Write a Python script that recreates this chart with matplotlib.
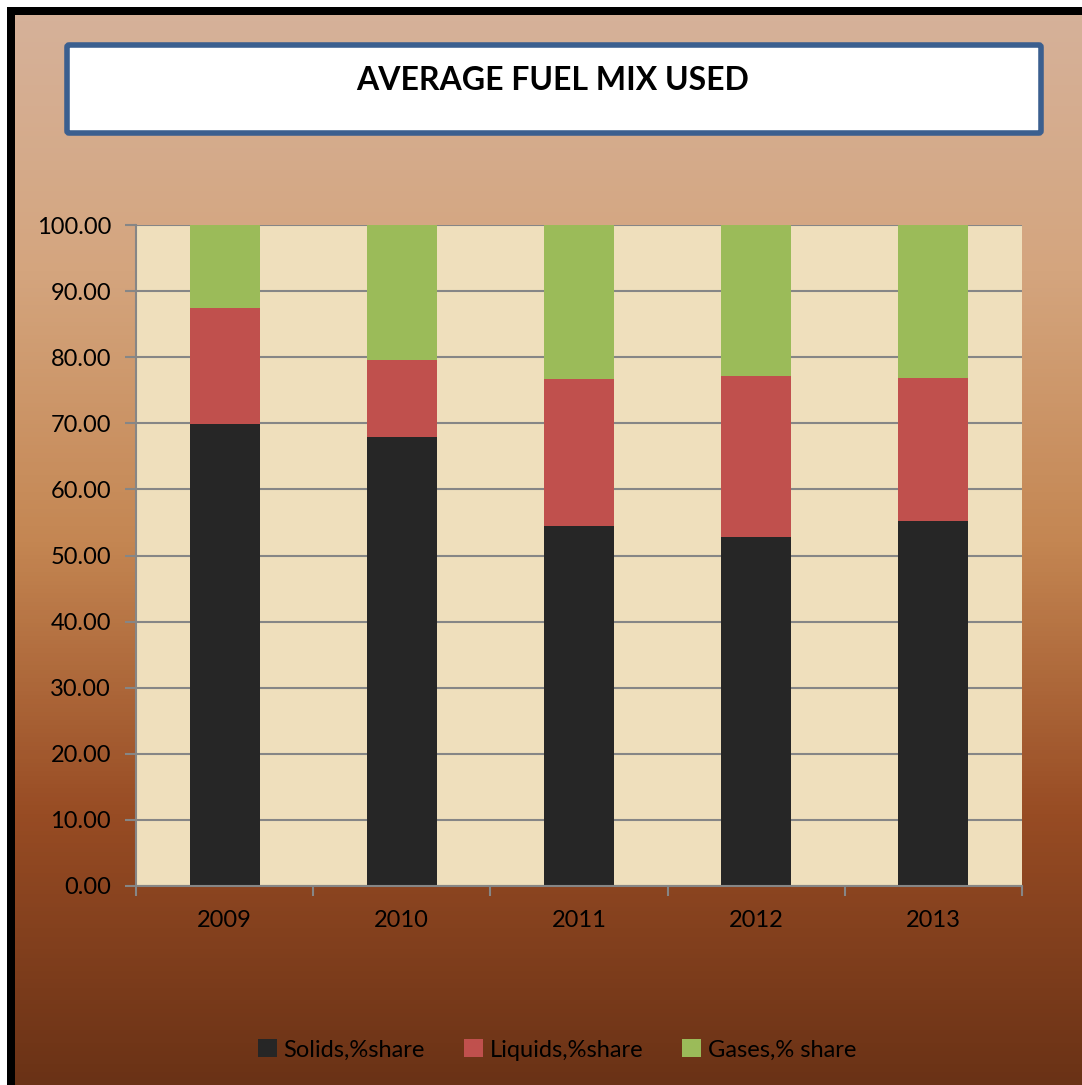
import numpy as np
import matplotlib.pyplot as plt
from matplotlib.patches import Rectangle, FancyBboxPatch
from matplotlib.colors import LinearSegmentedColormap

plt.rcParams['font.family'] = ['Lato', 'DejaVu Sans']

# Data
years = ['2009', '2010', '2011', '2012', '2013']
solids = [69.9, 68.0, 54.4, 52.8, 55.2]
liquids = [17.5, 11.6, 22.3, 24.4, 21.6]
gases = [12.6, 20.4, 23.3, 22.8, 23.2]
yticks = [0, 10, 20, 30, 40, 50, 60, 70, 80, 90, 100]

W, H = 1082, 1085
fig = plt.figure(figsize=(W / 100, H / 100), dpi=100)
fig.patch.set_facecolor('white')

# brown gradient background
bg = fig.add_axes([0, 0, 1, 1], zorder=-10)
bg.set_axis_off()
cmap = LinearSegmentedColormap.from_list('bgfade', [
    (0.0, '#d6b29b'), (0.25, '#d4a57e'), (0.5, '#c48652'),
    (0.75, '#984c24'), (1.0, '#6a3216')])
grad = np.linspace(0, 1, 256).reshape(-1, 1)
bg.imshow(grad, cmap=cmap, aspect='auto', extent=[0, 1, 0, 1])
bg.set_xlim(0, 1)
bg.set_ylim(0, 1)

# white margin above / left of the black frame
fig.patches.append(Rectangle((0, 1 - 7 / H), 1, 7 / H, transform=fig.transFigure,
                             facecolor='white', edgecolor='none', zorder=-5))
fig.patches.append(Rectangle((0, 0), 7 / W, 1, transform=fig.transFigure,
                             facecolor='white', edgecolor='none', zorder=-5))
# black frame (top and left visible)
fig.patches.append(Rectangle((7 / W, 1 - 15 / H), 1, 8 / H, transform=fig.transFigure,
                             facecolor='black', edgecolor='none', zorder=-4))
fig.patches.append(Rectangle((7 / W, 0), 8 / W, 1 - 7 / H, transform=fig.transFigure,
                             facecolor='black', edgecolor='none', zorder=-4))

# title box
fig.patches.append(FancyBboxPatch((67 / W, 1 - 133 / H), (1041 - 67) / W, (133 - 45) / H,
                                  boxstyle='round,pad=0,rounding_size=0.002',
                                  transform=fig.transFigure, facecolor='white',
                                  edgecolor='#3b5f8f', linewidth=4, zorder=1))
fig.text(553 / W, 1 - 80 / H, 'AVERAGE FUEL MIX USED', ha='center', va='center',
         fontsize=23, fontweight='bold', color='black')

# plot area
ax = fig.add_axes([136 / W, 1 - 886 / H, (1022 - 136) / W, (886 - 225) / H])
ax.set_facecolor('#efdfbc')
x = np.arange(len(years))
bw = 0.395
s = np.array(solids)
l = np.array(liquids)
g = np.array(gases)
ax.bar(x, s, bw, color='#262626', label='Solids,%share', zorder=3)
ax.bar(x, l, bw, bottom=s, color='#c0504d', label='Liquids,%share', zorder=3)
ax.bar(x, g, bw, bottom=s + l, color='#9bbb59', label='Gases,% share', zorder=3)

ax.set_xlim(-0.5, len(years) - 0.5)
ax.set_ylim(0, 100)
ax.set_yticks(yticks)
ax.set_yticklabels([f'{v:.2f}' for v in yticks])
ax.set_xticks(x)
ax.set_xticklabels(years)
ax.set_xticks(np.arange(-0.5, len(years)), minor=True)
ax.tick_params(axis='x', which='major', length=0, pad=17, labelsize=17)
ax.tick_params(axis='x', which='minor', length=7, width=1.5, color='#868686', direction='out')
ax.tick_params(axis='y', length=8, width=1.5, color='#868686', labelsize=17, pad=10)
ax.yaxis.grid(True, color='#868686', linewidth=1.5, zorder=1)
ax.set_axisbelow(True)
for side in ['top', 'right']:
    ax.spines[side].set_visible(False)
for side in ['left', 'bottom']:
    ax.spines[side].set_color('#868686')
    ax.spines[side].set_linewidth(1.5)
ax.spines['bottom'].set_zorder(4)

handles, labels = ax.get_legend_handles_labels()
fig.legend(handles, labels, loc='center', bbox_to_anchor=(557 / W, 1 - 1050 / H),
           ncol=3, frameon=False, fontsize=17, handlelength=0.8, handleheight=0.8,
           handletextpad=0.3, columnspacing=1.64)

fig.savefig('out.png', dpi=100, facecolor=fig.get_facecolor())
